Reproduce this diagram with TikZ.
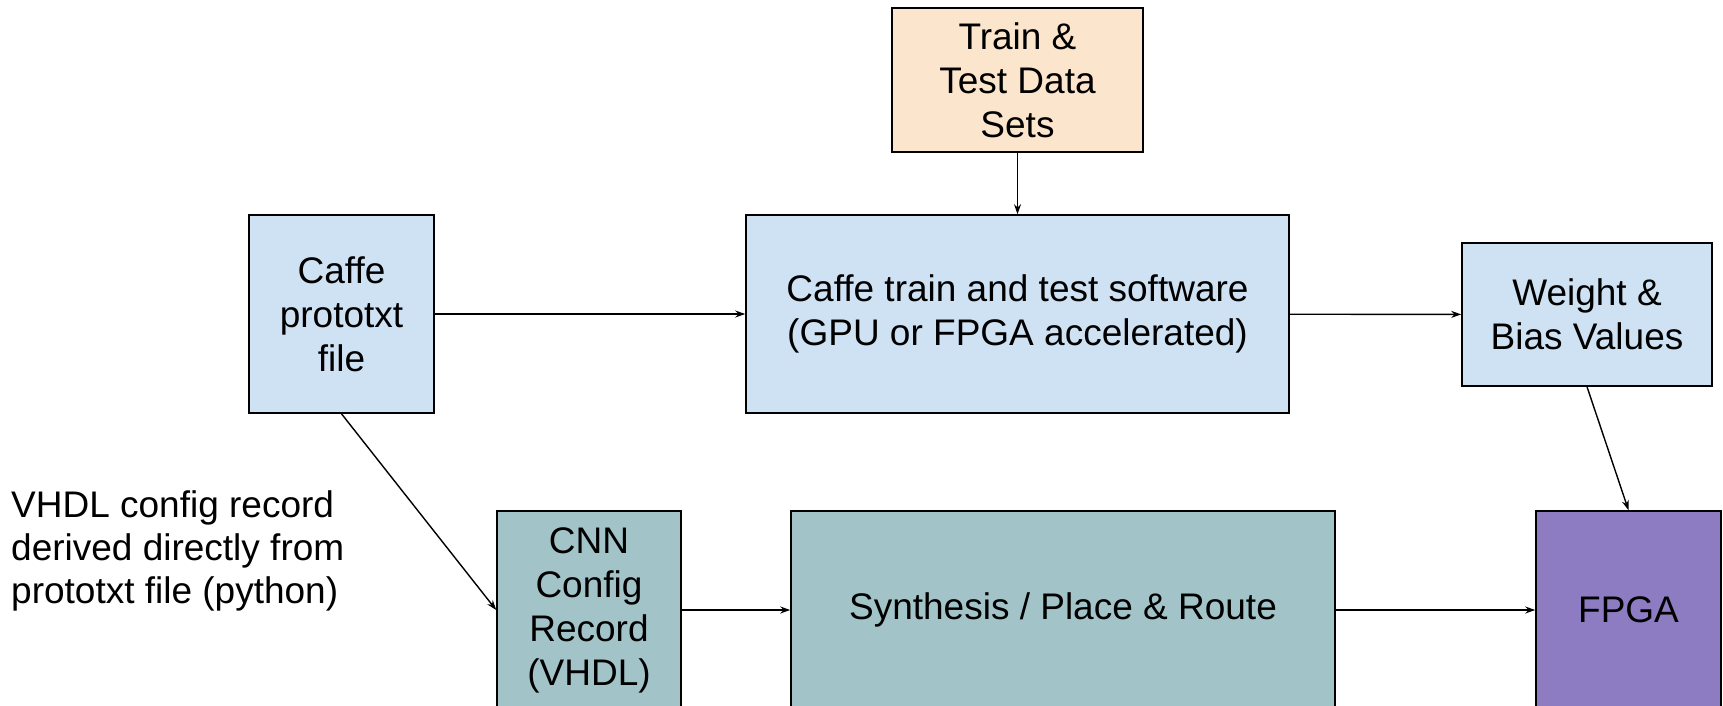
\documentclass[tikz,border=0pt]{standalone}
\usepackage{fontspec}
\setmainfont{Liberation Sans}
\usetikzlibrary{arrows.meta}
\definecolor{boxblue}{HTML}{CFE2F3}
\definecolor{boxpeach}{HTML}{FCE5CD}
\definecolor{boxteal}{HTML}{A2C4C9}
\definecolor{boxpurple}{HTML}{8E7CC3}
\begin{document}
\begin{tikzpicture}[x=1pt,y=-1pt,
    block/.style={draw=black, line width=1.6pt, align=center, inner sep=0pt,
                  font=\fontsize{37}{44}\selectfont},
    flow/.style={-{Stealth[length=10pt,width=7pt]}, line width=1.4pt}]
    % page frame, the bottom row runs off the edge
    \useasboundingbox (0,0) rectangle (1723,705);
    \clip (0,0) rectangle (1723,705);
    % top row
    \node[block, fill=boxpeach, minimum width=251, minimum height=144] (data) at (1017.5,80) {Train \&\\Test Data\\Sets};
    \node[block, fill=boxblue, minimum width=185, minimum height=198] (proto) at (341.5,314) {Caffe\\prototxt\\file};
    \node[block, fill=boxblue, minimum width=543, minimum height=198] (caffe) at (1017.5,314) {Caffe train and test software\\(GPU or FPGA accelerated)};
    \node[block, fill=boxblue, minimum width=250, minimum height=143] (weights) at (1587,314.5) {Weight \&\\Bias Values};
    % bottom row
    \node[block, fill=boxteal, minimum width=184, minimum height=198] (config) at (589,610) {CNN\\Config\\Record\\(VHDL)};
    \node[block, fill=boxteal, minimum width=544, minimum height=198] (synth) at (1063,610) {Synthesis / Place \& Route};
    \node[block, fill=boxpurple, minimum width=185, minimum height=198] (fpga) at (1628.5,610) {FPGA};
    \node[anchor=west, align=left, inner sep=0pt, font=\fontsize{37}{43}\selectfont] (note) at (11,551) {VHDL config record\\derived directly from\\prototxt file (python)};
    % connectors
    \draw[flow] (data) -- (caffe);
    \draw[flow] (proto) -- (caffe);
    \draw[flow] (caffe) -- (weights);
    \draw[flow] (proto.south) -- (config.west);
    \draw[flow] (config) -- (synth);
    \draw[flow] (synth) -- (fpga);
    \draw[flow] (weights.south) -- (fpga.north);
\end{tikzpicture}
\end{document}
